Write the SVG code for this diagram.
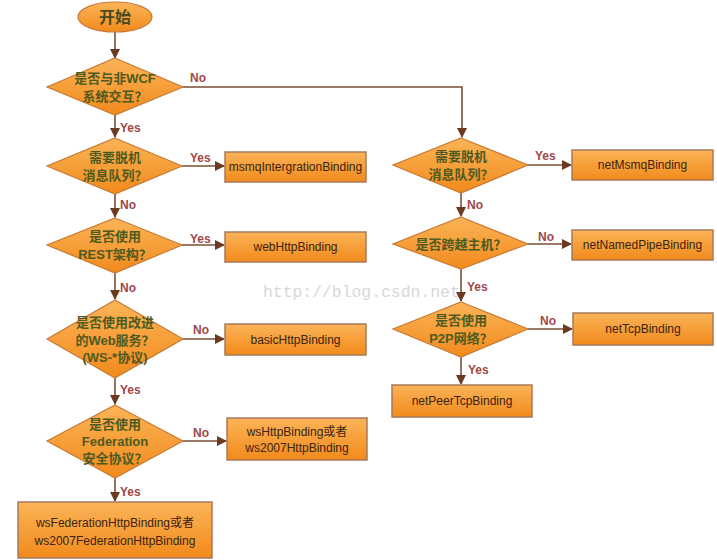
<svg xmlns="http://www.w3.org/2000/svg" width="717" height="560" viewBox="0 0 717 560">
<defs>
<linearGradient id="og" x1="0" y1="0" x2="0" y2="1">
<stop offset="0" stop-color="#fbb458"/>
<stop offset="1" stop-color="#f28a1c"/>
</linearGradient>
<marker id="ah" markerWidth="10" markerHeight="10" refX="9" refY="5" orient="auto" markerUnits="userSpaceOnUse">
<path d="M0,0 L10,5 L0,10 Z" fill="#6b3a20"/>
</marker>
<style>
.sh{fill:url(#og);stroke:#c87a34;stroke-width:1.2}
.bx{fill:url(#og);stroke:#a87a5a;stroke-width:1.5}
.dt{font-family:"Liberation Sans","Noto Sans CJK SC",sans-serif;font-size:13px;font-weight:bold;fill:#4e5a20;text-anchor:middle}
.bt{font-family:"Liberation Sans","Noto Sans CJK SC",sans-serif;font-size:12px;fill:#3a2410;text-anchor:middle}
.lb{font-family:"Liberation Sans",sans-serif;font-size:12px;font-weight:bold;fill:#a04848}
.cn{fill:none;stroke:#7a4e36;stroke-width:1.6;marker-end:url(#ah)}
.wm{font-family:"Liberation Mono",monospace;font-size:16.4px;fill:#d8d8d8}
</style>
</defs>
<rect width="717" height="560" fill="#ffffff"/>
<text class="wm" x="263" y="297">http://blog.csdn.net</text>
<g id="connectors">
<path class="cn" d="M115,32 V58"/>
<path class="cn" d="M183,87 H462 V137"/>
<path class="cn" d="M115,115 V137"/>
<path class="cn" d="M182,166 H224"/>
<path class="cn" d="M115,194 V217"/>
<path class="cn" d="M182,245 H224"/>
<path class="cn" d="M115,273 V299"/>
<path class="cn" d="M183,339 H224"/>
<path class="cn" d="M115,378 V404"/>
<path class="cn" d="M183,441 H226"/>
<path class="cn" d="M115,478 V501"/>
<path class="cn" d="M528,165 H571"/>
<path class="cn" d="M461,193 V216"/>
<path class="cn" d="M528,244 H571"/>
<path class="cn" d="M461,269 V301"/>
<path class="cn" d="M528,329 H572"/>
<path class="cn" d="M461,357 V384"/>
<text class="lb" x="190" y="82">No</text>
<text class="lb" x="120" y="132">Yes</text>
<text class="lb" x="190" y="162">Yes</text>
<text class="lb" x="120" y="209">No</text>
<text class="lb" x="190" y="243">Yes</text>
<text class="lb" x="120" y="292">No</text>
<text class="lb" x="193" y="334">No</text>
<text class="lb" x="120" y="394">Yes</text>
<text class="lb" x="193" y="437">No</text>
<text class="lb" x="120" y="496">Yes</text>
<text class="lb" x="535" y="160">Yes</text>
<text class="lb" x="467" y="209">No</text>
<text class="lb" x="538" y="241">No</text>
<text class="lb" x="467" y="291">Yes</text>
<text class="lb" x="540" y="325">No</text>
<text class="lb" x="468" y="374">Yes</text>
</g>
<g id="start">
<ellipse class="sh" cx="115" cy="17" rx="37" ry="15"/>
<text class="dt" x="115" y="23" style="font-size:16px;fill:#4a4a20">开始</text>
</g>
<g id="d1">
<path class="sh" d="M115,58 L183,87 L115,115 L47,87 Z"/>
<text class="dt" x="115" y="83">是否与非WCF</text>
<text class="dt" x="115" y="101">系统交互？</text>
</g>
<g id="d2">
<path class="sh" d="M115,138 L182,166 L115,194 L47,166 Z"/>
<text class="dt" x="115" y="162">需要脱机</text>
<text class="dt" x="115" y="180">消息队列？</text>
</g>
<g id="b-msmq">
<rect class="bx" x="225" y="152" width="141" height="30"/>
<text class="bt" x="295.5" y="171">msmqIntergrationBinding</text>
</g>
<g id="d3">
<path class="sh" d="M115,218 L182,245 L115,273 L47,245 Z"/>
<text class="dt" x="115" y="241">是否使用</text>
<text class="dt" x="115" y="259">REST架构？</text>
</g>
<g id="b-web">
<rect class="bx" x="225" y="232" width="141" height="30"/>
<text class="bt" x="295.5" y="251">webHttpBinding</text>
</g>
<g id="d4">
<path class="sh" d="M115,300 L183,339 L115,378 L47,339 Z"/>
<text class="dt" x="115" y="327">是否使用改进</text>
<text class="dt" x="115" y="345">的Web服务？</text>
<text class="dt" x="115" y="362">(WS-*协议)</text>
</g>
<g id="b-basic">
<rect class="bx" x="225" y="324" width="141" height="31"/>
<text class="bt" x="295.5" y="344">basicHttpBinding</text>
</g>
<g id="d5">
<path class="sh" d="M115,405 L183,441 L115,478 L47,441 Z"/>
<text class="dt" x="115" y="429">是否使用</text>
<text class="dt" x="115" y="446">Federation</text>
<text class="dt" x="115" y="463">安全协议？</text>
</g>
<g id="b-ws">
<rect class="bx" x="227" y="418" width="140" height="42"/>
<text class="bt" x="297" y="436">wsHttpBinding或者</text>
<text class="bt" x="297" y="452">ws2007HttpBinding</text>
</g>
<g id="b-wsfed">
<rect class="bx" x="18" y="502" width="194" height="56"/>
<text class="bt" x="115" y="527">wsFederationHttpBinding或者</text>
<text class="bt" x="115" y="545">ws2007FederationHttpBinding</text>
</g>
<g id="r1">
<path class="sh" d="M461,138 L528,165 L461,193 L393,165 Z"/>
<text class="dt" x="461" y="161">需要脱机</text>
<text class="dt" x="461" y="179">消息队列？</text>
</g>
<g id="b-netmsmq">
<rect class="bx" x="572" y="150" width="141" height="30"/>
<text class="bt" x="642.5" y="169">netMsmqBinding</text>
</g>
<g id="r2">
<path class="sh" d="M461,217 L528,244 L461,269 L393,244 Z"/>
<text class="dt" x="461" y="249">是否跨越主机？</text>
</g>
<g id="b-pipe">
<rect class="bx" x="572" y="230" width="141" height="30"/>
<text class="bt" x="642.5" y="249">netNamedPipeBinding</text>
</g>
<g id="r3">
<path class="sh" d="M461,302 L528,329 L461,357 L393,329 Z"/>
<text class="dt" x="461" y="325">是否使用</text>
<text class="dt" x="461" y="343">P2P网络？</text>
</g>
<g id="b-tcp">
<rect class="bx" x="573" y="313" width="140" height="32"/>
<text class="bt" x="643" y="333">netTcpBinding</text>
</g>
<g id="b-peer">
<rect class="bx" x="392" y="385" width="140" height="32"/>
<text class="bt" x="462" y="405">netPeerTcpBinding</text>
</g>
</svg>
